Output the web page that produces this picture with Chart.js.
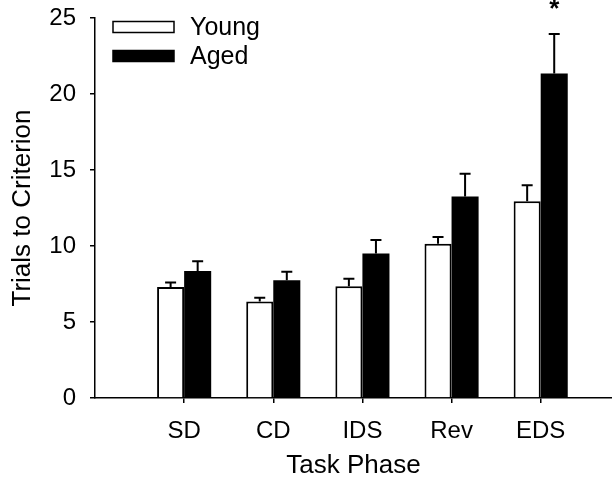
<!DOCTYPE html>
<html>
<head>
<meta charset="utf-8">
<script src="https://cdn.jsdelivr.net/npm/chart.js@4/dist/chart.umd.min.js"></script>
<style>
  html, body { margin: 0; padding: 0; background: #fff; }
  #grafik { display: block; }
</style>
</head>
<body>
<canvas id="grafik" width="612" height="478"></canvas>
<script>
// VERİLER
const categories = ["SD", "CD", "IDS", "Rev", "EDS"];
const youngMean = [7.3, 6.35, 7.35, 10.15, 12.95];
const youngErr = [0.3, 0.25, 0.5, 0.45, 1.05];
const agedMean = [8.35, 7.75, 9.5, 13.25, 21.35];
const agedErr = [0.65, 0.55, 0.9, 1.5, 2.6];
const significant = [false, false, false, false, true];
const yTicks = [0, 5, 10, 15, 20, 25];

const FONT = "'Liberation Sans', Arial, sans-serif";

function points(values) {
    return values.map((v, i) => ({ x: i + 1, y: v }));
}

// HATA ÇUBUKLARI + YILDIZ
const errorBars = {
    id: "errorBars",
    afterDatasetsDraw(chart) {
        const ctx = chart.ctx;
        const y = chart.scales.y;
        ctx.save();
        ctx.strokeStyle = "#000";
        ctx.lineWidth = 2;
        chart.data.datasets.forEach((ds, di) => {
            const meta = chart.getDatasetMeta(di);
            meta.data.forEach((bar, i) => {
                const top = y.getPixelForValue(ds.data[i].y + ds.errors[i]);
                ctx.beginPath();
                ctx.moveTo(bar.x, bar.y);
                ctx.lineTo(bar.x, top);
                ctx.moveTo(bar.x - 5.5, top);
                ctx.lineTo(bar.x + 5.5, top);
                ctx.stroke();
                if (di === 1 && significant[i]) {
                    ctx.fillStyle = "#000";
                    ctx.font = "bold 26px " + FONT;
                    ctx.textAlign = "center";
                    ctx.textBaseline = "alphabetic";
                    ctx.fillText("*", bar.x, top - 17);
                }
            });
        });
        ctx.restore();
    }
};

// LEJANT
const legendBox = {
    id: "legendBox",
    afterDraw(chart) {
        const ctx = chart.ctx;
        ctx.save();
        ctx.font = "25px " + FONT;
        ctx.textBaseline = "middle";
        ctx.textAlign = "left";
        chart.data.datasets.forEach((ds, i) => {
            const cy = 27 + i * 29;
            ctx.fillStyle = ds.backgroundColor;
            ctx.fillRect(113, cy - 5.5, 61, 11);
            ctx.strokeStyle = "#000";
            ctx.lineWidth = 1.5;
            ctx.strokeRect(113, cy - 5.5, 61, 11);
            ctx.fillStyle = "#000";
            ctx.fillText(ds.label, 190, cy + 1);
        });
        ctx.restore();
    }
};

new Chart(document.getElementById("grafik"), {
    type: "bar",
    data: {
        datasets: [{
            label: "Young",
            data: points(youngMean),
            errors: youngErr,
            backgroundColor: "#fff",
            borderColor: "#000",
            borderWidth: 2
        }, {
            label: "Aged",
            data: points(agedMean),
            errors: agedErr,
            backgroundColor: "#000",
            borderColor: "#000",
            borderWidth: 0
        }]
    },
    options: {
        responsive: false,
        animation: false,
        categoryPercentage: 0.607,
        barPercentage: 1,
        layout: { padding: { top: 18, right: 0, left: 0, bottom: 0 } },
        plugins: {
            legend: { display: false },
            tooltip: { enabled: false }
        },
        scales: {
            x: {
                type: "linear",
                min: 0,
                max: 5.8,
                offset: false,
                afterFit(s) { s.height = 80; s.paddingLeft = 0; s.paddingRight = 0; },
                afterBuildTicks(s) {
                    s.ticks = categories.map((c, i) => ({ value: i + 1 }));
                },
                ticks: {
                    color: "#000",
                    padding: 14,
                    maxRotation: 0,
                    font: { family: FONT, size: 24 },
                    callback: v => categories[v - 1] || ""
                },
                grid: {
                    offset: false,
                    drawOnChartArea: false,
                    drawTicks: true,
                    tickLength: 5,
                    color: "#000",
                    lineWidth: 1.5
                },
                border: { display: true, color: "#000", width: 1.5 },
                title: {
                    display: true,
                    text: "Task Phase",
                    color: "#000",
                    padding: { top: 0, bottom: -3 },
                    font: { family: FONT, size: 26 }
                }
            },
            y: {
                min: 0,
                max: 25,
                afterFit(s) { s.width = 95; s.paddingTop = 0; s.paddingBottom = 0; },
                afterBuildTicks(s) {
                    s.ticks = yTicks.map(v => ({ value: v }));
                },
                ticks: {
                    color: "#000",
                    padding: 14,
                    font: { family: FONT, size: 24 }
                },
                grid: {
                    drawOnChartArea: false,
                    drawTicks: true,
                    tickLength: 5,
                    color: "#000",
                    lineWidth: 1.5
                },
                border: { display: true, color: "#000", width: 1.5 },
                title: {
                    display: true,
                    text: "Trials to Criterion",
                    color: "#000",
                    padding: { top: 7, bottom: 0 },
                    font: { family: FONT, size: 26 }
                }
            }
        }
    },
    plugins: [errorBars, legendBox]
});
</script>
</body>
</html>
